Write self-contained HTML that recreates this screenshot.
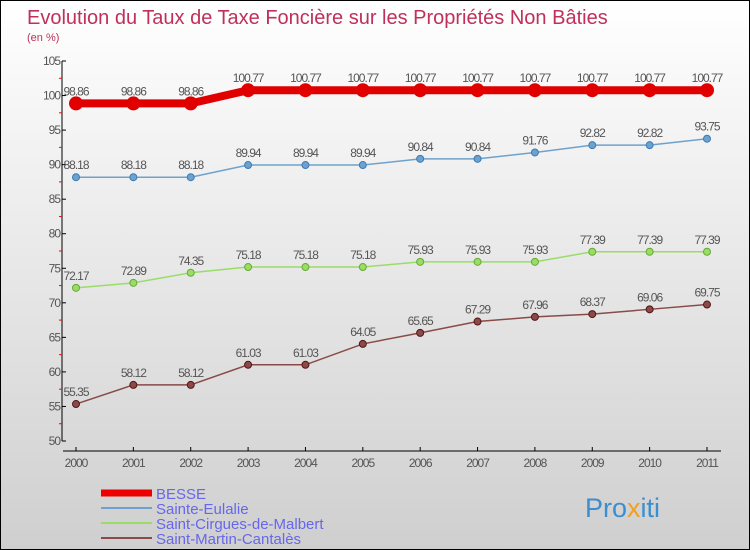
<!DOCTYPE html>
<html><head><meta charset="utf-8"><style>
body{margin:0}
#c{position:relative;width:748px;height:548px;border:1px solid #000;background:linear-gradient(#ffffff,#cfcfcf);font-family:"Liberation Sans",sans-serif;overflow:hidden}
svg{position:absolute;left:0;top:0}
</style></head><body>
<div id="c">
<svg id="s" width="750" height="550">
<text x="26" y="23" font-size="20" fill="#c0305a">Evolution du Taux de Taxe Foncière sur les Propriétés Non Bâties</text>
<text x="26" y="40" font-size="11" fill="#c0305a">(en %)</text>
<text x="584" y="516" font-size="27" fill="#3a8fd0">Pro<tspan fill="#f0a020">x</tspan>iti</text>
</svg>
</div>
<script>
const years=["2000","2001","2002","2003","2004","2005","2006","2007","2008","2009","2010","2011"];
const yTicks=[50,55,60,65,70,75,80,85,90,95,100,105];
const besse=[98.86,98.86,98.86,100.77,100.77,100.77,100.77,100.77,100.77,100.77,100.77,100.77];
const eulalie=[88.18,88.18,88.18,89.94,89.94,89.94,90.84,90.84,91.76,92.82,92.82,93.75];
const cirgues=[72.17,72.89,74.35,75.18,75.18,75.18,75.93,75.93,75.93,77.39,77.39,77.39];
const martin=[55.35,58.12,58.12,61.03,61.03,64.05,65.65,67.29,67.96,68.37,69.06,69.75];
const seriesNames=["BESSE","Sainte-Eulalie","Saint-Cirgues-de-Malbert","Saint-Martin-Cantalès"];
const NS="http://www.w3.org/2000/svg",svg=document.getElementById('s');
const X=i=>75+i*(706-75)/(years.length-1);
const Y=v=>440-(v-50)*(380/55);
function el(t,a,p){const e=document.createElementNS(NS,t);for(const k in a)e.setAttribute(k,a[k]);(p||svg).appendChild(e);return e;}
const ax=el('g',{});


el('line',{x1:61,y1:60,x2:61,y2:440,stroke:'#000'},ax);
el('line',{x1:62,y1:450,x2:720,y2:450,stroke:'#000'},ax);
yTicks.forEach((v,i)=>{
 el('line',{x1:61,y1:Y(v),x2:65,y2:Y(v),stroke:'#000'},ax);
 if(i<yTicks.length-1)el('line',{x1:58,y1:Y(v+2.5),x2:61,y2:Y(v+2.5),stroke:'#f00'},ax);
 const t=el('text',{x:59,y:Y(v)+4,'font-size':12,fill:'#555','text-anchor':'end','letter-spacing':'-1'},ax);
 t.textContent=v;
 
 
});
years.forEach((y,i)=>{
 el('line',{x1:X(i),y1:446,x2:X(i),y2:450,stroke:'#000'},ax);
 const t=el('text',{x:X(i),y:466,'font-size':12,fill:'#555','text-anchor':'middle','letter-spacing':'-1'},ax);
 t.textContent=y;
 
 
});
function series(data,color,w,r,name,lc){
 const g=el('g',{});
 
 
 el('polyline',{points:data.map((v,i)=>X(i)+','+Y(v)).join(' '),fill:'none',stroke:color,'stroke-width':w},g);
 data.forEach((v,i)=>{
  const c=el('circle',{cx:X(i),cy:Y(v),r:r,fill:color,stroke:lc,'stroke-width':1},g);
  
  
  const t=el('text',{x:X(i),y:Y(v)-8,'font-size':12,fill:'#555','text-anchor':'middle','letter-spacing':'-1'},g);
  t.textContent=String(v);
  
  
 });
}
series(besse,'#e00000',8,6.5,'series-besse','#e00000');
series(eulalie,'#6ea2cc',1.5,3.5,'series-sainte-eulalie','#3a7ab8');
series(cirgues,'#99dd66',1.5,3.5,'series-saint-cirgues','#66aa33');
series(martin,'#8a4a4a',1.5,3.5,'series-saint-martin','#551515');
const lc=[['#ee0000',7],['#6ea2cc',2],['#99dd66',2],['#8a4a4a',2]];
seriesNames.forEach((n,i)=>{
 const g=el('g',{});
 
 
 const y=492+i*15;
 el('line',{x1:100,y1:y,x2:151,y2:y,stroke:lc[i][0],'stroke-width':lc[i][1]},g);
 const t=el('text',{x:155,y:y+6,'font-size':15,fill:'#6666ee'},g);
 t.textContent=n;
});
</script>
</body></html>
